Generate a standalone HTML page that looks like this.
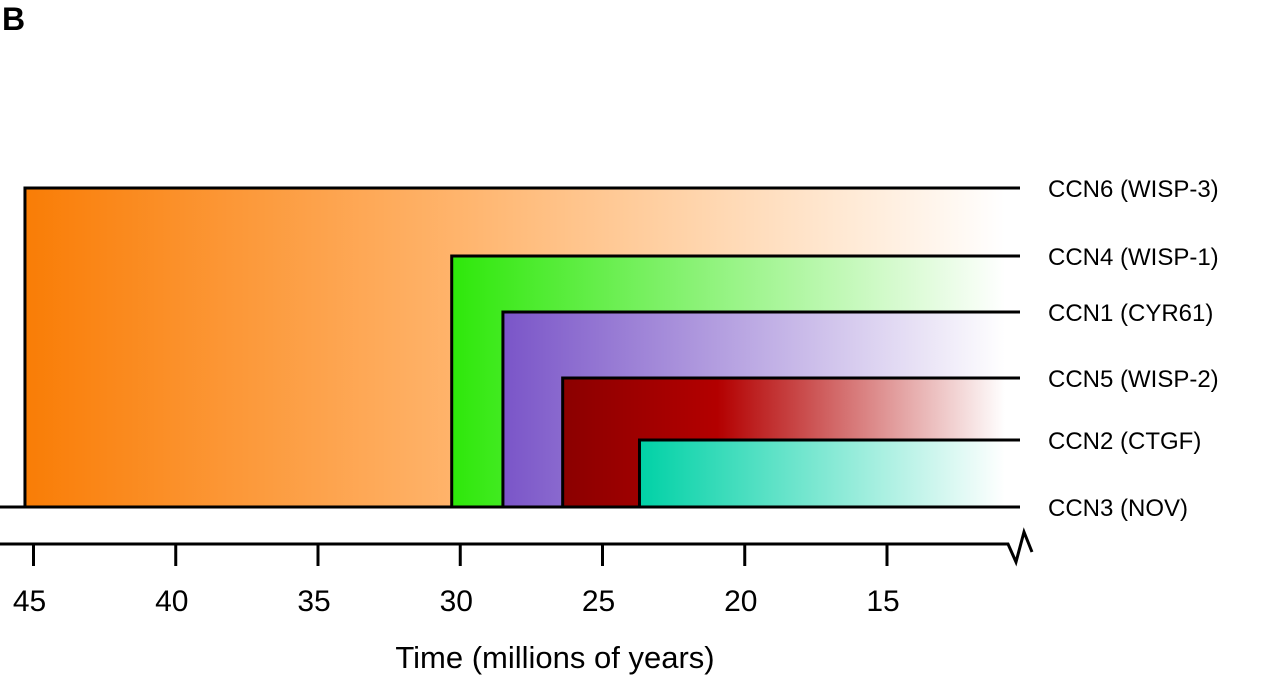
<!DOCTYPE html>
<html><head><meta charset="utf-8"><style>
body{margin:0;background:#fff;}
svg{display:block;font-family:"Liberation Sans",Arial,sans-serif;}
</style></head><body>
<svg id="chart" width="1280" height="677">
<defs id="defs"></defs>
<text x="2" y="30" font-size="32" font-weight="bold">B</text>
<g id="bars"></g>
<g id="axis"></g>
<text x="555" y="668" font-size="31" text-anchor="middle">Time (millions of years)</text>
</svg>
<script>
const genes = ["CCN6 (WISP-3)","CCN4 (WISP-1)","CCN1 (CYR61)","CCN5 (WISP-2)","CCN2 (CTGF)"];
const origins = [45.3, 30.3, 28.5, 26.4, 23.7];
const rowTops = [188, 256, 312, 378, 440];
const baseLabel = "CCN3 (NOV)";
const ticks = [45,40,35,30,25,20,15];
const colors = [["#f97d06","#ffb56e"],["#2ee80a","#2ee80a"],["#7a55c8","#7a55c8"],["#8b0000","#b30000"],["#00d1a6","#00d1a6"]];

const NS="http://www.w3.org/2000/svg";
const x = v => 33.5 + (45 - v) * 28.45;
const baseY = 507, lineEnd = 1020, fadeEnd = 1005;
const defs=document.getElementById('defs'), bars=document.getElementById('bars'), axis=document.getElementById('axis');
function mk(t,a,p){const e=document.createElementNS(NS,t);for(const k in a)e.setAttribute(k,a[k]);p.appendChild(e);return e;}

genes.forEach((g,i)=>{
  const x0=x(origins[i]);
  const gr=mk('linearGradient',{id:'gr'+i,gradientUnits:'userSpaceOnUse',x1:x0,y1:0,x2:fadeEnd,y2:0},defs);
  const c=colors[i];
  if(i===0){
    mk('stop',{offset:0,'stop-color':c[0]},gr);
    mk('stop',{offset:0.45,'stop-color':c[1]},gr);
  } else if(i===3){
    mk('stop',{offset:0,'stop-color':c[0]},gr);
    mk('stop',{offset:0.35,'stop-color':c[1]},gr);
  } else {
    mk('stop',{offset:0,'stop-color':c[0]},gr);
  }
  mk('stop',{offset:1,'stop-color':'#ffffff'},gr);
  const r=mk('rect',{x:x0,y:rowTops[i],width:fadeEnd-x0,height:baseY-rowTops[i],fill:'url(#gr'+i+')'},bars);
  
  
  const p=mk('path',{d:`M${x0},${baseY} V${rowTops[i]} H${lineEnd}`,fill:'none',stroke:'#000','stroke-width':3},bars);
  
  
  const t=mk('text',{x:1048,y:rowTops[i]+9,'font-size':24},bars);
  t.textContent=g;
  
  
});
const bl=mk('line',{x1:0,y1:baseY,x2:lineEnd,y2:baseY,stroke:'#000','stroke-width':3},bars);


const bt=mk('text',{x:1048,y:baseY+9,'font-size':24},bars);
bt.textContent=baseLabel;



const ax=mk('path',{d:'M0,544 H1008 L1016,562 L1024,532 L1032,552',fill:'none',stroke:'#000','stroke-width':3},axis);


ticks.forEach(v=>{
  const tk=mk('line',{x1:x(v),y1:544,x2:x(v),y2:566,stroke:'#000','stroke-width':3},axis);
  
  
  const tl=mk('text',{x:x(v)-4,y:611,'font-size':30,'text-anchor':'middle'},axis);
  tl.textContent=v;
  
  
});
</script>
</body></html>
